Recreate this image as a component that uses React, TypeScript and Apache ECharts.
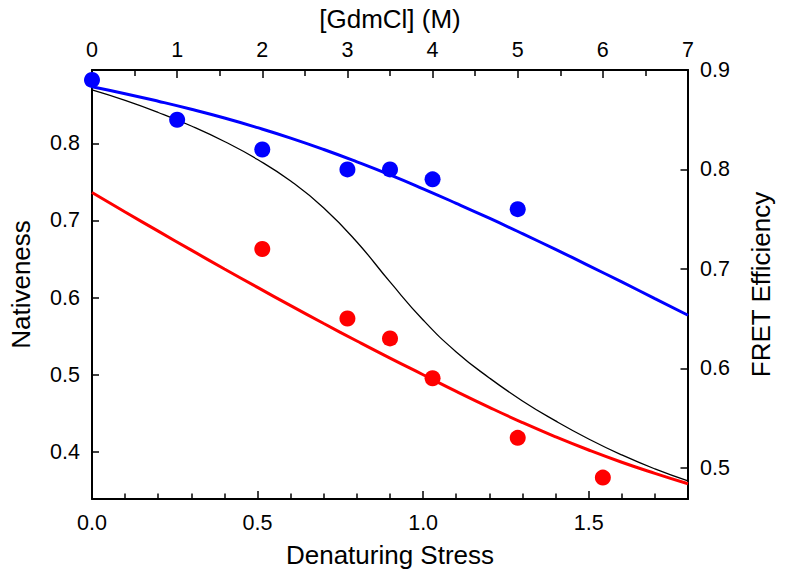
import React, { useEffect, useRef } from "react";
import * as echarts from "echarts";

// Denaturing stress sample positions (bottom axis)
const stress = [0, 0.1, 0.2, 0.3, 0.4, 0.5, 0.6, 0.7, 0.8, 0.9, 1.0, 1.1, 1.2, 1.3, 1.4, 1.5, 1.6, 1.7, 1.8];
// Blue fit curve (FRET efficiency, right axis)
const blueFit = [0.8832, 0.8762, 0.8686, 0.8605, 0.8517, 0.842, 0.8315, 0.82, 0.8076, 0.7945, 0.7805, 0.7659, 0.7509, 0.7354, 0.7195, 0.7033, 0.6868, 0.6701, 0.6533];
// Red fit curve (FRET efficiency, right axis)
const redFit = [0.7768, 0.7572, 0.7379, 0.7188, 0.6999, 0.6813, 0.663, 0.645, 0.6274, 0.6102, 0.5935, 0.5768, 0.5607, 0.5454, 0.5311, 0.5178, 0.5055, 0.4943, 0.4838];
// Black nativeness curve (left axis)
const nativeness = [0.8691, 0.8555, 0.8399, 0.8224, 0.8023, 0.779, 0.7511, 0.7162, 0.6721, 0.6203, 0.571, 0.5296, 0.4959, 0.4661, 0.4402, 0.4168, 0.3961, 0.378, 0.3624];

// Measured points (top axis: [GdmCl] (M); right axis: FRET efficiency)
const gdmBlue = [0, 1, 2, 3, 3.5, 4, 5];
const fretBlue = [0.89, 0.85, 0.82, 0.8, 0.8, 0.79, 0.76];
const gdmRed = [2, 3, 3.5, 4, 5, 6];
const fretRed = [0.72, 0.65, 0.63, 0.59, 0.53, 0.49];

// Tick labels
const nativenessTicks = [0.4, 0.5, 0.6, 0.7, 0.8];
const fretTicks = [0.5, 0.6, 0.7, 0.8, 0.9];

const FONT = "'Liberation Sans', Arial, Helvetica, sans-serif";
const BLUE = "#0000ff";
const RED = "#ff0000";

export default function App() {
  const ref = useRef<HTMLDivElement>(null);
  useEffect(() => {
    if (!ref.current) return;
    const chart = echarts.init(ref.current, null, { renderer: "svg" });
    const axisLine = { show: true, onZero: false, lineStyle: { color: "#000", width: 2 } };
    const label = { color: "#000", fontSize: 21.5, fontFamily: FONT };
    const nameStyle = { color: "#000", fontSize: 26, fontFamily: FONT };
    chart.setOption({
      animation: false,
      backgroundColor: "#fff",
      grid: { left: 91, top: 70, width: 597, height: 429, containLabel: false },
      xAxis: [
        {
          type: "value",
          position: "bottom",
          min: 0,
          max: 1.8,
          interval: 0.5,
          name: "Denaturing Stress",
          nameLocation: "middle",
          nameGap: 43,
          nameTextStyle: nameStyle,
          axisLine,
          axisTick: { show: true, inside: true, length: 8, lineStyle: { color: "#000", width: 1.5 } },
          minorTick: { show: true, splitNumber: 5, length: 5.5, lineStyle: { color: "#000", width: 1.5 } },
          axisLabel: { ...label, margin: 13, showMaxLabel: false, formatter: (v: number) => v.toFixed(1) },
          splitLine: { show: false },
        },
        {
          type: "value",
          position: "top",
          min: 0,
          max: 7,
          interval: 1,
          name: "[GdmCl] (M)",
          nameLocation: "middle",
          nameGap: 38,
          nameTextStyle: nameStyle,
          axisLine,
          axisTick: { show: true, inside: true, length: 8, lineStyle: { color: "#000", width: 1.5 } },
          minorTick: { show: true, splitNumber: 2, length: 6, lineStyle: { color: "#000", width: 1.5 } },
          axisLabel: { ...label, margin: 9 },
          splitLine: { show: false },
        },
      ],
      yAxis: [
        {
          type: "value",
          position: "left",
          min: 0.339,
          max: 0.895,
          name: "Nativeness",
          nameLocation: "middle",
          nameGap: 58,
          nameRotate: 90,
          nameTextStyle: nameStyle,
          axisLine,
          axisTick: { show: true, inside: true, length: 7, customValues: nativenessTicks, lineStyle: { color: "#000", width: 1.5 } },
          axisLabel: { ...label, margin: 12, customValues: nativenessTicks, formatter: (v: number) => v.toFixed(1) },
          splitLine: { show: false },
        },
        {
          type: "value",
          position: "right",
          min: 0.4685,
          max: 0.9,
          name: "FRET Efficiency",
          nameLocation: "middle",
          nameGap: 60,
          nameRotate: 90,
          nameTextStyle: nameStyle,
          axisLine,
          axisTick: { show: true, inside: true, length: 7.5, customValues: fretTicks, lineStyle: { color: "#000", width: 1.5 } },
          axisLabel: { ...label, margin: 12, customValues: fretTicks, formatter: (v: number) => v.toFixed(1) },
          splitLine: { show: false },
        },
      ],
      series: [
        {
          type: "line",
          xAxisIndex: 0,
          yAxisIndex: 0,
          data: stress.map((s, i) => [s, nativeness[i]]),
          smooth: true,
          showSymbol: false,
          lineStyle: { color: "#000", width: 1.3 },
          z: 2,
        },
        {
          type: "line",
          xAxisIndex: 0,
          yAxisIndex: 1,
          data: stress.map((s, i) => [s, redFit[i]]),
          smooth: true,
          showSymbol: false,
          lineStyle: { color: RED, width: 3 },
          z: 3,
        },
        {
          type: "line",
          xAxisIndex: 0,
          yAxisIndex: 1,
          data: stress.map((s, i) => [s, blueFit[i]]),
          smooth: true,
          showSymbol: false,
          lineStyle: { color: BLUE, width: 3 },
          z: 3,
        },
        {
          type: "scatter",
          xAxisIndex: 1,
          yAxisIndex: 1,
          data: gdmBlue.map((g, i) => [g, fretBlue[i]]),
          symbol: "circle",
          symbolSize: 16,
          itemStyle: { color: BLUE, opacity: 1 },
          z: 5,
        },
        {
          type: "scatter",
          xAxisIndex: 1,
          yAxisIndex: 1,
          data: gdmRed.map((g, i) => [g, fretRed[i]]),
          symbol: "circle",
          symbolSize: 16,
          itemStyle: { color: RED, opacity: 1 },
          z: 5,
        },
      ],
    });
    return () => chart.dispose();
  }, []);
  return <div ref={ref} style={{ position: "fixed", left: 0, top: 0, width: 785, height: 579 }} />;
}
